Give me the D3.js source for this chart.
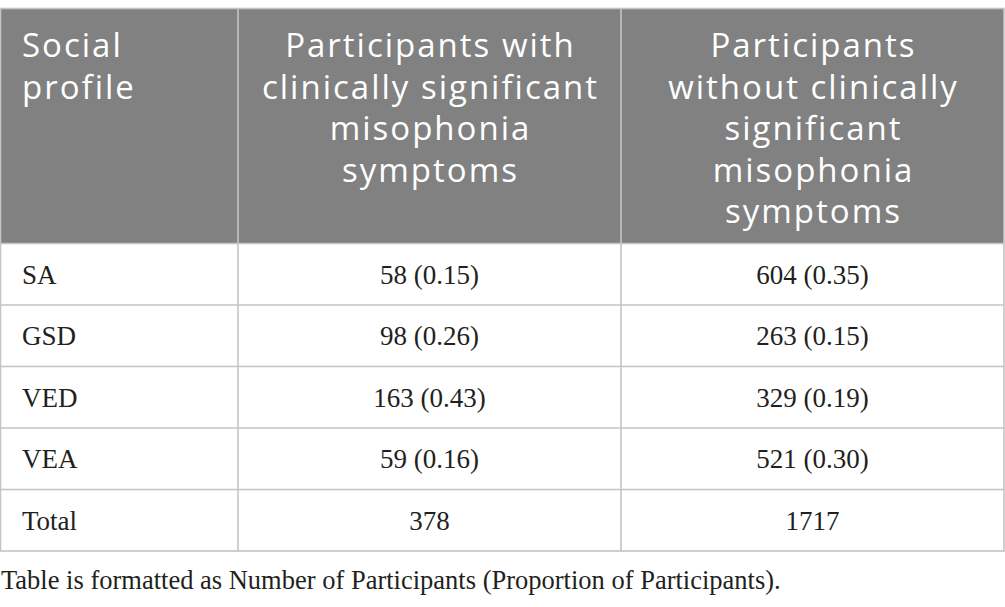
<!DOCTYPE html>
<html>
<head>
<meta charset="utf-8">
<script src="https://cdn.jsdelivr.net/npm/d3@7"></script>
<style>
  html, body { margin: 0; padding: 0; background: #fff; }
</style>
</head>
<body>
<div id="table_chart"></div>
<script>
var width = 1005,
    height = 607;

// table content
var header_lines = [
    ["Social", "profile"],
    ["Participants with", "clinically significant", "misophonia", "symptoms"],
    ["Participants", "without clinically", "significant", "misophonia", "symptoms"]
];
var profiles = ["SA", "GSD", "VED", "VEA", "Total"];
var with_counts = [58, 98, 163, 59, 378];
var with_props = ["0.15", "0.26", "0.43", "0.16", null];
var without_counts = [604, 263, 329, 521, 1717];
var without_props = ["0.35", "0.15", "0.19", "0.30", null];
var footnote = "Table is formatted as Number of Participants (Proportion of Participants).";

var col_edges = [0.5, 238, 621, 1004];
var table_top = 8.5,
    header_bottom = 243.5,
    table_bottom = 551;

var svg = d3.select("#table_chart")
    .append("svg")
    .attr("width", width)
    .attr("height", height);

var y = d3.scaleBand()
    .domain(profiles)
    .range([header_bottom, table_bottom]);

function cellText(count, prop) {
    return prop === null ? String(count) : count + " (" + prop + ")";
}

var rows = profiles.map(function (p, i) {
    return {
        profile: p,
        cells: [p, cellText(with_counts[i], with_props[i]), cellText(without_counts[i], without_props[i])]
    };
});

// header background
svg.append("rect")
    .attr("x", col_edges[0])
    .attr("y", table_top)
    .attr("width", col_edges[3] - col_edges[0])
    .attr("height", header_bottom - table_top)
    .style("fill", "#808180");

// header text
header_lines.forEach(function (lines, c) {
    var left = c === 0;
    var tx = left ? col_edges[0] + 21.5 : (col_edges[c] + col_edges[c + 1]) / 2 + 1;
    var t = svg.append("text")
        .attr("x", tx)
        .attr("y", 57)
        .attr("text-anchor", left ? "start" : "middle")
        .style("font-family", "'Open Sans', sans-serif")
        .style("font-size", "33px")
        .style("letter-spacing", "2px")
        .style("fill", "#ffffff");
    lines.forEach(function (l, k) {
        t.append("tspan")
            .attr("x", tx)
            .attr("dy", k === 0 ? 0 : 41.5)
            .text(l);
    });
});

// body cells
var rowG = svg.selectAll(".row")
    .data(rows)
    .enter()
    .append("g")
    .attr("class", "row")
    .attr("transform", function (d) { return "translate(0," + y(d.profile) + ")"; });

rowG.selectAll("text")
    .data(function (d) { return d.cells; })
    .enter()
    .append("text")
    .attr("x", function (d, i) { return i === 0 ? col_edges[0] + 21.5 : (col_edges[i] + col_edges[i + 1]) / 2; })
    .attr("y", y.bandwidth() / 2)
    .attr("dy", "0.35em")
    .attr("text-anchor", function (d, i) { return i === 0 ? "start" : "middle"; })
    .style("font-family", "'Liberation Serif', serif")
    .style("font-size", "27px")
    .style("fill", "#231f20")
    .text(function (d) { return d; });

// grid lines
var line_color = "#c4c4c4";
var grid = svg.append("g")
    .style("stroke", line_color)
    .style("stroke-width", 1.6)
    .style("fill", "none");

grid.selectAll(".hline")
    .data(profiles.slice(1))
    .enter()
    .append("line")
    .attr("x1", col_edges[0])
    .attr("x2", col_edges[3])
    .attr("y1", function (d) { return y(d); })
    .attr("y2", function (d) { return y(d); });

grid.append("line")
    .attr("x1", col_edges[0]).attr("x2", col_edges[3])
    .attr("y1", header_bottom).attr("y2", header_bottom);

grid.selectAll(".vline")
    .data(col_edges.slice(1, 3))
    .enter()
    .append("line")
    .attr("x1", function (d) { return d; })
    .attr("x2", function (d) { return d; })
    .attr("y1", table_top)
    .attr("y2", table_bottom);

grid.append("rect")
    .attr("x", col_edges[0])
    .attr("y", table_top)
    .attr("width", col_edges[3] - col_edges[0])
    .attr("height", table_bottom - table_top);

// footnote
svg.append("text")
    .attr("x", 1)
    .attr("y", 589)
    .style("font-family", "'Liberation Serif', serif")
    .style("font-size", "26.5px")
    .style("fill", "#231f20")
    .text(footnote);
</script>
</body>
</html>
